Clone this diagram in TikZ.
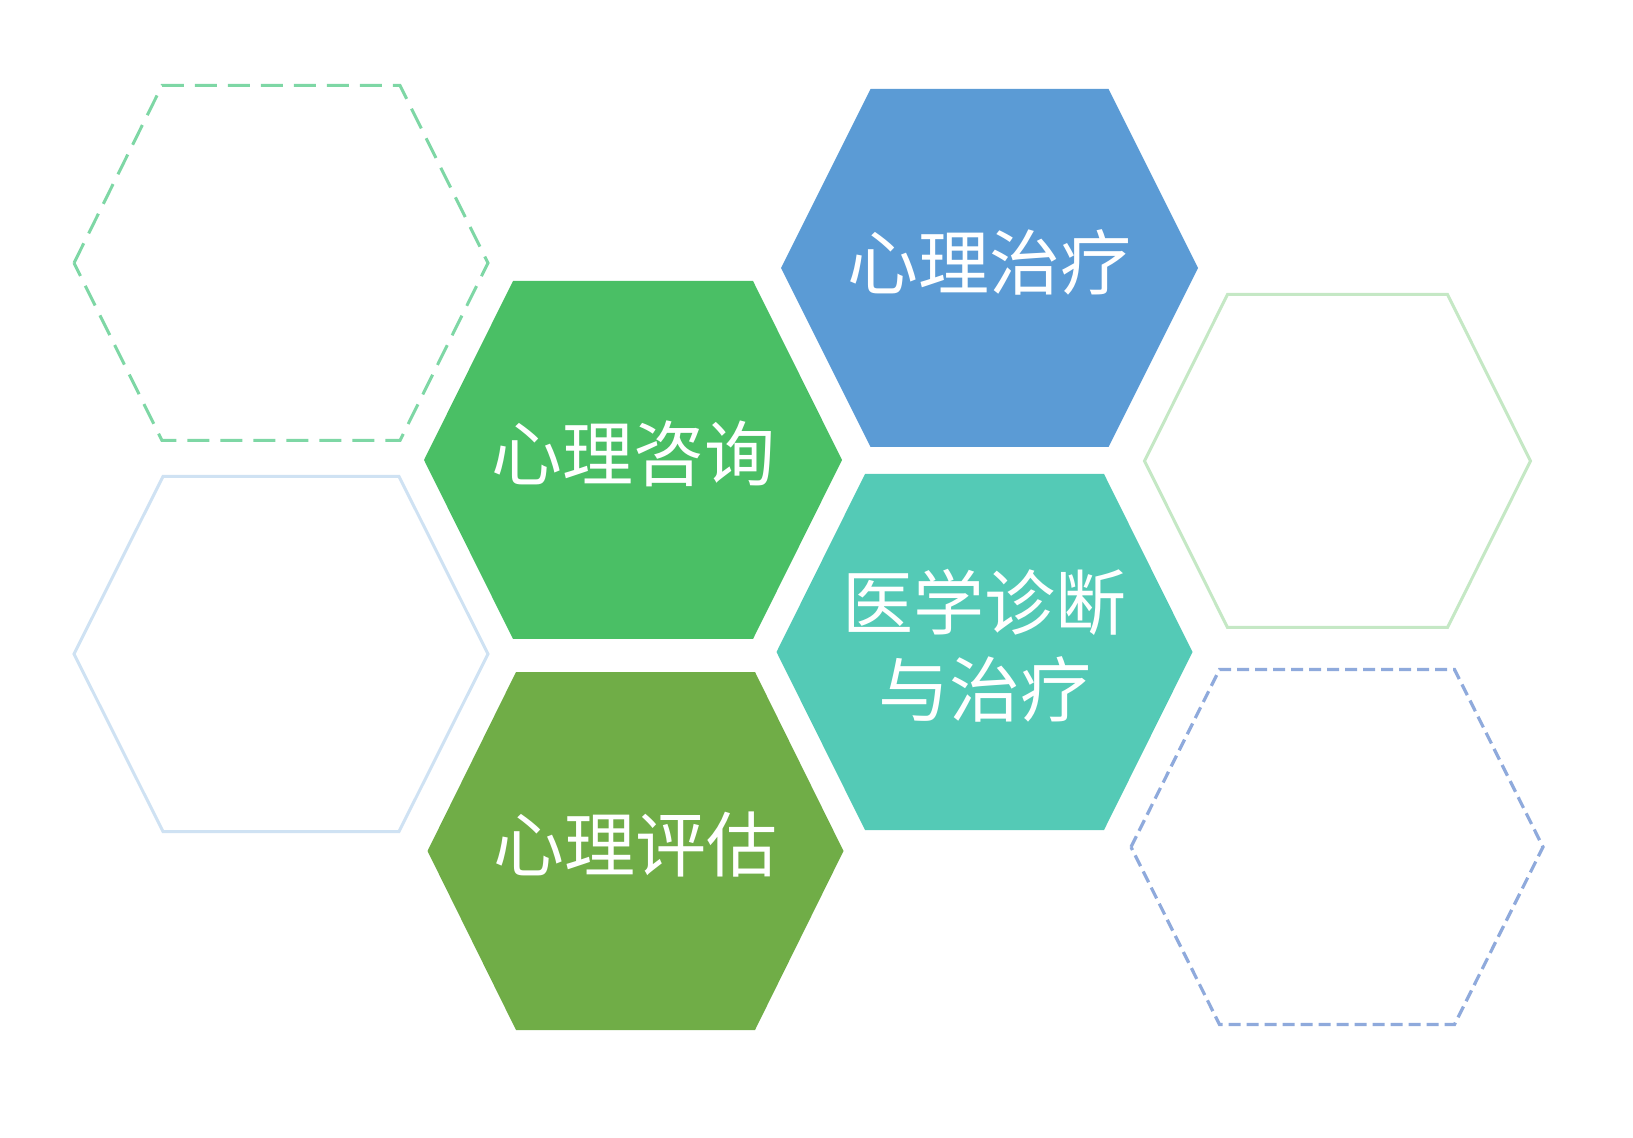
\documentclass[tikz,border=0pt]{standalone}
\usepackage{fontspec}
\newfontfamily\cjk{Noto Sans CJK SC}

\definecolor{hexgreen}{RGB}{74,191,101}
\definecolor{hexblue}{RGB}{91,155,213}
\definecolor{hexteal}{RGB}{84,202,182}
\definecolor{hexolive}{RGB}{112,173,71}
\definecolor{rimgreen}{RGB}{126,215,165}
\definecolor{rimblue}{RGB}{207,226,243}
\definecolor{rimlime}{RGB}{197,232,197}
\definecolor{rimnavy}{RGB}{143,170,220}

% centre x, centre y, half width, half top edge, half height
\newcommand{\hexcell}[6]{%
  \path[#1] (#2-#4,#3) -- (#2-#5,#3-#6) -- (#2+#5,#3-#6) -- (#2+#4,#3)
    -- (#2+#5,#3+#6) -- (#2-#5,#3+#6) -- cycle;}

\tikzset{
  label text/.style={text=white, align=center,
    font=\cjk\fontsize{35.5}{43.3}\selectfont}
}

\begin{document}
\begin{tikzpicture}[x=0.5pt, y=-0.5pt]

        \useasboundingbox (0,0) rectangle (1633,1138);

        \hexcell{draw=rimgreen, line width=1.5pt, dash pattern=on 11pt off 5.5pt}{281}{263}{207}{119}{177.5}
        \hexcell{draw=rimblue, line width=1.5pt}{281}{654}{207}{118}{177.5}
        \hexcell{draw=rimlime, line width=1.5pt}{1337.5}{461}{193}{110}{166.5}
        \hexcell{draw=rimnavy, line width=1.6pt, dash pattern=on 6pt off 3pt}{1337}{847}{206}{117.5}{177.5}

        \hexcell{fill=hexgreen}{633}{460}{209}{120}{179}
        \node[label text] (zixun) at (633,454) {心理咨询};

        \hexcell{fill=hexblue}{989.5}{268}{208.5}{119}{179}
        \node[label text] (zhiliao) at (989.5,262) {心理治疗};

        \hexcell{fill=hexteal}{984.5}{652}{208}{119.5}{178}
        \node[label text] (zhenduan) at (984.5,646) {医学诊断\\与治疗};

        \hexcell{fill=hexolive}{635.5}{851}{208}{119.5}{179}
        \node[label text] (pinggu) at (635.5,845) {心理评估};

\end{tikzpicture}
\end{document}
